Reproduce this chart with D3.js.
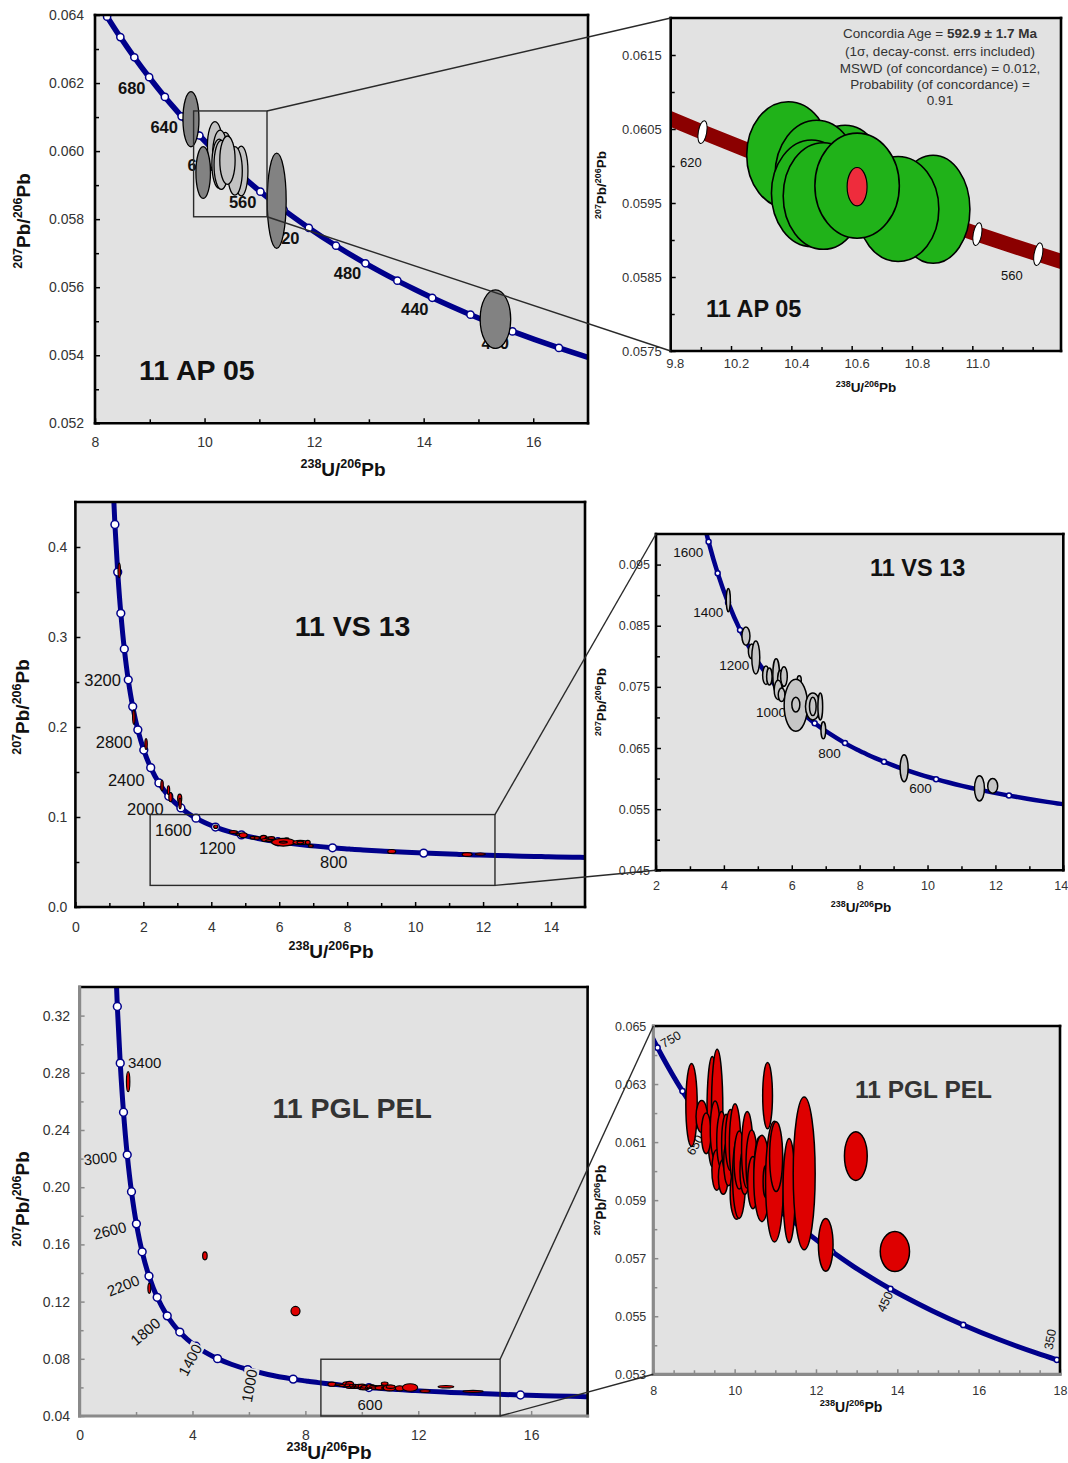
<!DOCTYPE html>
<html>
<head>
<meta charset="utf-8">
<script src="https://cdn.jsdelivr.net/npm/d3@7"></script>
<style>
  body { margin: 0; background: #fff; }
  svg { display: block; }
</style>
</head>
<body>
<div id="chart"></div>
<script>
// ---- concordia reference points (age in Ma, 238U/206Pb, 207Pb/206Pb) ----
const CONCORDIA_AGE = [4400, 4200, 4000, 3800, 3600, 3400, 3200, 3000, 2800, 2600,
  2400, 2200, 2000, 1800, 1700, 1600, 1500, 1400, 1300, 1200,
  1100, 1000, 900, 800, 760, 750, 740, 720, 700, 680,
  660, 650, 640, 630, 620, 610, 600, 590, 580, 570,
  560, 550, 540, 520, 500, 480, 460, 450, 440, 420,
  400, 380, 360, 350, 340, 300];
const CONCORDIA_X = [1.0215, 1.0888, 1.1630, 1.2453, 1.3370, 1.4398, 1.5557, 1.6874, 1.8384, 2.0129,
  2.2170, 2.4586, 2.7490, 3.1046, 3.3140, 3.5497, 3.8170, 4.1227, 4.4756, 4.8875,
  5.3746, 5.9594, 6.6743, 7.5683, 7.9920, 8.1049, 8.2209, 8.4627, 8.7182, 8.9888,
  9.2758, 9.4260, 9.5808, 9.7406, 9.9055, 10.0758, 10.2518, 10.4338, 10.6220, 10.8169,
  11.0187, 11.2279, 11.4448, 11.9037, 12.3993, 12.9362, 13.5199, 13.8312, 14.1566, 14.8540,
  15.6212, 16.4691, 17.4114, 17.9228, 18.4644, 20.9919];
const CONCORDIA_Y = [0.55714, 0.48624, 0.42501, 0.37210, 0.32635, 0.28674, 0.25242, 0.22266, 0.19682, 0.17437,
  0.15483, 0.13782, 0.12299, 0.11004, 0.10419, 0.09872, 0.09360, 0.08881, 0.08432, 0.08012,
  0.07619, 0.07250, 0.06904, 0.06580, 0.064559, 0.064254, 0.063951, 0.063350, 0.062757, 0.062172,
  0.061593, 0.061306, 0.061022, 0.060738, 0.060458, 0.060178, 0.059901, 0.059625, 0.059351, 0.059079,
  0.058808, 0.058539, 0.058272, 0.057743, 0.057219, 0.056703, 0.056193, 0.055940, 0.055689, 0.055192,
  0.054701, 0.054215, 0.053736, 0.053499, 0.053263, 0.052334];

// ---- analyses: [238U/206Pb, 207Pb/206Pb, half width, half height] ----
// 11 AP 05, analyses used for the concordia age (back to front)
const AP05_USED = [
  [10.190, 0.060149, 0.138, 0.00072],
  [10.378, 0.059811, 0.133, 0.00074],
  [10.284, 0.059878, 0.138, 0.00074],
  [10.267, 0.059631, 0.133, 0.00072],
  [10.306, 0.059595, 0.133, 0.00072],
  [10.670, 0.059415, 0.122, 0.00073],
  [10.554, 0.059419, 0.135, 0.00071],
  [10.418, 0.059734, 0.140, 0.00071]
];
const AP05_OTHER = [
  [9.752, 0.060938, 0.146, 0.00081],
  [9.975, 0.059370, 0.133, 0.00076],
  [11.317, 0.058540, 0.173, 0.00140],
  [15.310, 0.055060, 0.279, 0.00086]
];
const AP05_AGE_ELLIPSE = [[10.418, 0.059720, 0.033, 0.00026]];
const AP05_AGE_TEXT = ["Concordia Age = ", "592.9 ± 1.7 Ma", "(1σ, decay-const. errs included)",
  "MSWD (of concordance) = 0.012,", "Probability (of concordance) =", "0.91"];

// 11 VS 13
const VS13_DATA = [
  [1.29, 0.3740, 0.035, 0.0080],
  [1.72, 0.2110, 0.035, 0.0080],
  [2.08, 0.1810, 0.035, 0.0060],
  [2.55, 0.1350, 0.035, 0.0060],
  [2.74, 0.1297, 0.035, 0.0050],
  [2.80, 0.1220, 0.05, 0.0050],
  [3.07, 0.1205, 0.06, 0.0050],
  [3.08, 0.1150, 0.035, 0.0060],
  [4.13, 0.0892, 0.060, 0.0019],
  [4.65, 0.0833, 0.118, 0.0015],
  [4.82, 0.0808, 0.098, 0.0012],
  [4.94, 0.0798, 0.118, 0.0027],
  [5.24, 0.0769, 0.098, 0.0015],
  [5.34, 0.0767, 0.080, 0.0014],
  [5.54, 0.0769, 0.098, 0.0027],
  [5.66, 0.0758, 0.080, 0.0019],
  [5.77, 0.0767, 0.098, 0.0016],
  [5.60, 0.0745, 0.118, 0.0016],
  [5.70, 0.0737, 0.098, 0.0011],
  [6.22, 0.0761, 0.060, 0.0007],
  [6.12, 0.0720, 0.344, 0.00425],
  [6.12, 0.0721, 0.118, 0.0012],
  [6.62, 0.0718, 0.216, 0.0022],
  [6.62, 0.0718, 0.098, 0.0015],
  [6.84, 0.0718, 0.070, 0.0022],
  [6.93, 0.0679, 0.070, 0.0014],
  [9.31, 0.0617, 0.118, 0.0022],
  [11.53, 0.0584, 0.147, 0.00207],
  [11.92, 0.0588, 0.147, 0.0012]
];

// 11 PGL PEL
const PGL_DATA = [
  [8.94, 0.06228, 0.14, 0.00143],
  [9.45, 0.06205, 0.13, 0.00190],
  [9.57, 0.06210, 0.14, 0.00210],
  [9.19, 0.06188, 0.14, 0.00055],
  [9.30, 0.06130, 0.12, 0.00070],
  [9.52, 0.06142, 0.12, 0.00100],
  [9.56, 0.06004, 0.12, 0.00070],
  [9.68, 0.06107, 0.12, 0.00098],
  [9.72, 0.05980, 0.12, 0.00060],
  [9.79, 0.06096, 0.11, 0.00100],
  [9.85, 0.06030, 0.12, 0.00080],
  [9.90, 0.06107, 0.13, 0.00105],
  [10.01, 0.06090, 0.14, 0.00142],
  [10.05, 0.05924, 0.16, 0.00090],
  [10.11, 0.05981, 0.16, 0.00144],
  [10.115, 0.06038, 0.13, 0.00100],
  [10.25, 0.06000, 0.12, 0.00080],
  [10.31, 0.06073, 0.14, 0.00132],
  [10.42, 0.06027, 0.14, 0.00115],
  [10.45, 0.05960, 0.13, 0.00090],
  [10.62, 0.06004, 0.14, 0.00115],
  [10.81, 0.06260, 0.12, 0.00114],
  [10.67, 0.05975, 0.20, 0.00149],
  [10.77, 0.05964, 0.07, 0.00055],
  [10.98, 0.05964, 0.22, 0.00208],
  [11.02, 0.06050, 0.16, 0.00120],
  [11.34, 0.05933, 0.15, 0.00179],
  [11.71, 0.05992, 0.27, 0.00263],
  [12.24, 0.05746, 0.18, 0.00091],
  [12.98, 0.06052, 0.28, 0.00084],
  [13.94, 0.05723, 0.36, 0.00069]
];
const PGL_OUTLIERS = [
  [1.72, 0.2738, 0.06, 0.0070],
  [2.47, 0.1293, 0.05, 0.0035],
  [4.44, 0.1520, 0.08, 0.0028],
  [7.65, 0.1134, 0.16, 0.0032]
];

// ---- age labels on the concordia ----
const AP05_LABELS = ["680", "640", "600", "560", "520", "480", "440", "400"];
const AP05_ZOOM_LABELS = ["620", "560"];
const VS13_LABELS = ["3200", "2800", "2400", "2000", "1600", "1200", "800"];
const VS13_ZOOM_LABELS = ["1600", "1400", "1200", "1000", "800", "600"];
const PGL_LABELS = ["3400", "3000", "2600", "2200", "1800", "1400", "1000", "600"];
const PGL_ZOOM_LABELS = ["750", "650", "450", "350"];

// ---- ticks ----
const AP05_X_TICKS = [8, 10, 12, 14, 16];
const AP05_X_MINOR = [9, 11, 13, 15];
const AP05_Y_TICKS = [0.052, 0.054, 0.056, 0.058, 0.060, 0.062, 0.064];
const AP05_Y_MINOR = [0.053, 0.055, 0.057, 0.059, 0.061, 0.063];
const AP05Z_X_TICKS = [9.8, 10.0, 10.2, 10.4, 10.6, 10.8];
const AP05Z_X_TICK_TEXT = ["9.8", "10.2", "10.4", "10.6", "10.8", "11.0"];
const AP05Z_X_MINOR = [9.9, 10.1, 10.3, 10.5, 10.7, 10.9, 11.0];
const AP05Z_Y_TICKS = [0.0575, 0.0585, 0.0595, 0.0605, 0.0615];
const AP05Z_Y_MINOR = [0.058, 0.059, 0.060, 0.061];
const VS13_X_TICKS = [0, 2, 4, 6, 8, 10, 12, 14];
const VS13_X_MINOR = [1, 3, 5, 7, 9, 11, 13];
const VS13_Y_TICKS = [0.0, 0.1, 0.2, 0.3, 0.4];
const VS13_Y_MINOR = [0.05, 0.15, 0.25, 0.35];
const VS13Z_X_TICKS = [2, 4, 6, 8, 10, 12, 14];
const VS13Z_X_MINOR = [3, 5, 7, 9, 11, 13];
const VS13Z_Y_TICKS = [0.045, 0.055, 0.065, 0.075, 0.085, 0.095];
const VS13Z_Y_MINOR = [0.05, 0.06, 0.07, 0.08, 0.09];
const PGL_X_TICKS = [0, 4, 8, 12, 16];
const PGL_X_MINOR = [2, 6, 10, 14];
const PGL_Y_TICKS = [0.04, 0.08, 0.12, 0.16, 0.20, 0.24, 0.28, 0.32];
const PGL_Y_MINOR = [0.06, 0.10, 0.14, 0.18, 0.22, 0.26, 0.30];
const PGLZ_X_TICKS = [8, 10, 12, 14, 16, 18];
const PGLZ_X_MINOR = [8.5, 9, 9.5, 10.5, 11, 11.5, 12.5, 13, 13.5, 14.5, 15, 15.5, 16.5, 17, 17.5];
const PGLZ_Y_TICKS = [0.053, 0.055, 0.057, 0.059, 0.061, 0.063, 0.065];
const PGLZ_Y_MINOR = [0.054, 0.056, 0.058, 0.060, 0.062, 0.064];

// ---- drawing ----
const WIDTH = 1068, HEIGHT = 1463;
const BG = "#e2e2e2";
const NAVY = "#00008b";
const FONT = "'Liberation Sans', Arial, Helvetica, sans-serif";

const SVG = d3.select("#chart").append("svg")
  .attr("width", WIDTH).attr("height", HEIGHT)
  .style("font-family", FONT);
SVG.append("rect").attr("width", WIDTH).attr("height", HEIGHT).attr("fill", "#fff");

const CONCORDIA = CONCORDIA_AGE.map((age, i) => ({ age: age, x: CONCORDIA_X[i], y: CONCORDIA_Y[i] }));

function isoLabel(g, x, y, size, rotate, top, bottom) {
  const t = g.append("text")
    .attr("transform", "translate(" + x + "," + y + ") rotate(" + rotate + ")")
    .attr("text-anchor", "middle").attr("font-weight", "bold")
    .attr("font-size", size).attr("fill", "#111");
  const sup = size * 0.66, lift = size * 0.4;
  t.append("tspan").attr("font-size", sup).attr("dy", -lift).text(top[0]);
  t.append("tspan").attr("dy", lift).text(top[1] + "/");
  t.append("tspan").attr("font-size", sup).attr("dy", -lift).text(bottom[0]);
  t.append("tspan").attr("dy", lift).text(bottom[1]);
}

function drawEllipses(sel, data, X, Y, style) {
  sel.selectAll(null)
    .data(data)
    .enter()
    .append("ellipse")
    .attr("cx", (d) => X(d[0]))
    .attr("cy", (d) => Y(d[1]))
    .attr("rx", (d) => Math.abs(X(d[0] + d[2]) - X(d[0])))
    .attr("ry", (d) => Math.abs(Y(d[1] + d[3]) - Y(d[1])))
    .attr("fill", style.fill)
    .attr("stroke", style.stroke || "#000")
    .attr("stroke-width", style.width || 1.3);
}

function drawPanel(p) {
  const X = d3.scaleLinear().domain(p.xDomain).range([p.left, p.right]);
  const Y = d3.scaleLinear().domain(p.yDomain).range([p.bottom, p.top]);
  const g = SVG.append("g").attr("id", p.id);

  g.append("clipPath").attr("id", p.id + "-clip").append("rect")
    .attr("x", p.left).attr("y", p.top)
    .attr("width", p.right - p.left).attr("height", p.bottom - p.top);
  g.append("rect")
    .attr("x", p.left).attr("y", p.top)
    .attr("width", p.right - p.left).attr("height", p.bottom - p.top)
    .attr("fill", BG);

  const plot = g.append("g").attr("clip-path", "url(#" + p.id + "-clip)");

  // concordia curve
  const pts = CONCORDIA.filter((d) => d.age >= p.ageRange[0] && d.age <= p.ageRange[1]);
  plot.append("path")
    .datum(pts)
    .attr("d", d3.line().x((d) => X(d.x)).y((d) => Y(d.y)).curve(d3.curveCatmullRom.alpha(0.5)))
    .attr("fill", "none")
    .attr("stroke", p.curveColor)
    .attr("stroke-width", p.curveWidth);

  const inside = (d) => d.x >= p.xDomain[0] && d.x <= p.xDomain[1] &&
    d.y >= p.yDomain[0] && d.y <= p.yDomain[1];
  const marks = pts.filter((d) => d.age % p.markerStep === 0 && inside(d));
  if (p.markerShape === "ellipse") {
    plot.selectAll(".mk").data(marks).enter().append("ellipse")
      .attr("cx", (d) => X(d.x)).attr("cy", (d) => Y(d.y))
      .attr("rx", 4.2).attr("ry", 11.5)
      .attr("transform", (d) => "rotate(10," + X(d.x) + "," + Y(d.y) + ")")
      .attr("fill", "#fff").attr("stroke", "#000").attr("stroke-width", 1);
  } else {
    plot.selectAll(".mk").data(marks).enter().append("circle")
      .attr("cx", (d) => X(d.x)).attr("cy", (d) => Y(d.y))
      .attr("r", p.markerR)
      .attr("fill", "#fff").attr("stroke", p.curveColor).attr("stroke-width", 1.5);
  }

  // age labels
  p.labels.forEach((txt, i) => {
    const pos = p.labelPos[i];
    const lg = plot.append("g")
      .attr("transform", "translate(" + pos[0] + "," + pos[1] + ") rotate(" + (pos[2] || 0) + ")");
    const t = lg.append("text")
      .attr("text-anchor", p.labelAnchor)
      .attr("dy", p.labelAnchor === "middle" ? "0.35em" : 0)
      .attr("font-size", p.labelSize)
      .attr("font-weight", p.labelWeight)
      .attr("fill", "#111")
      .text(txt);
    if (pos[3]) {
      const bb = t.node().getBBox();
      lg.insert("rect", "text")
        .attr("x", bb.x - 1).attr("y", bb.y + 1)
        .attr("width", bb.width + 2).attr("height", bb.height - 2)
        .attr("fill", BG);
    }
  });

  // analyses
  p.ellipses.forEach((set) => drawEllipses(plot, set.data, X, Y, set.style));

  // title
  g.append("text")
    .attr("x", p.title.x).attr("y", p.title.y)
    .attr("font-size", p.title.size).attr("font-weight", "bold")
    .attr("fill", p.title.color)
    .text(p.title.text);

  // axes (inside ticks)
  const styleAxis = (ax) => {
    ax.select(".domain").remove();
    ax.attr("font-family", FONT).attr("font-size", p.tickFont);
    ax.selectAll("line").attr("stroke", p.tickColor).attr("stroke-width", 1.5);
    ax.selectAll("text").attr("fill", "#333");
    return ax;
  };
  const xPad = p.xLabelBase - 0.71 * p.tickFont;
  const xMajor = styleAxis(g.append("g").attr("transform", "translate(0," + p.bottom + ")")
    .call(d3.axisBottom(X).tickValues(p.xTicks).tickFormat(p.xFormat)
      .tickSizeInner(-5).tickSizeOuter(0).tickPadding(xPad)));
  if (p.xLabelShift) {
    xMajor.selectAll("text").attr("dx", (d, i) => p.xLabelShift[i] || 0);
  }
  styleAxis(g.append("g").attr("transform", "translate(0," + p.bottom + ")")
    .call(d3.axisBottom(X).tickValues(p.xMinor).tickFormat(() => "")
      .tickSizeInner(-4).tickSizeOuter(0)));
  styleAxis(g.append("g").attr("transform", "translate(" + p.left + ",0)")
    .call(d3.axisLeft(Y).tickValues(p.yTicks).tickFormat(p.yFormat)
      .tickSizeInner(-5).tickSizeOuter(0).tickPadding(p.yLabelPad)));
  styleAxis(g.append("g").attr("transform", "translate(" + p.left + ",0)")
    .call(d3.axisLeft(Y).tickValues(p.yMinor).tickFormat(() => "")
      .tickSizeInner(-4).tickSizeOuter(0)));

  // frame
  const fw = p.frameWidth;
  g.append("line").attr("x1", p.left).attr("x2", p.right).attr("y1", p.top).attr("y2", p.top)
    .attr("stroke", "#000").attr("stroke-width", fw).attr("stroke-linecap", "square");
  g.append("line").attr("x1", p.right).attr("x2", p.right).attr("y1", p.top).attr("y2", p.bottom)
    .attr("stroke", "#000").attr("stroke-width", fw).attr("stroke-linecap", "square");
  g.append("line").attr("x1", p.left).attr("x2", p.right).attr("y1", p.bottom).attr("y2", p.bottom)
    .attr("stroke", p.axisColor).attr("stroke-width", p.axisWidth).attr("stroke-linecap", "square");
  g.append("line").attr("x1", p.left).attr("x2", p.left).attr("y1", p.top).attr("y2", p.bottom)
    .attr("stroke", p.axisColor).attr("stroke-width", p.axisWidth).attr("stroke-linecap", "square");

  // axis titles
  isoLabel(g, p.xTitle[0], p.xTitle[1], p.axisTitleSize, 0, ["238", "U"], ["206", "Pb"]);
  isoLabel(g, p.yTitle[0], p.yTitle[1], p.axisTitleSize, -90, ["207", "Pb"], ["206", "Pb"]);

  return { X: X, Y: Y, g: g };
}

const fmt = (s) => d3.format(s);

// ---- panel 1: 11 AP 05 overview ----
const P1 = drawPanel({
  id: "ap05", left: 95, right: 588, top: 15, bottom: 423.3,
  xDomain: [8, 17], yDomain: [0.052, 0.064],
  xTicks: AP05_X_TICKS, xMinor: AP05_X_MINOR, xFormat: fmt("d"),
  yTicks: AP05_Y_TICKS, yMinor: AP05_Y_MINOR, yFormat: fmt(".3f"),
  tickFont: 14, xLabelBase: 24, yLabelPad: 11, tickColor: "#000",
  curveColor: NAVY, curveWidth: 5.5, ageRange: [340, 800], markerStep: 20, markerR: 3.6,
  labels: AP05_LABELS,
  labelPos: [[118, 94], [150.4, 133], [187.5, 171], [228.9, 208], [272, 244], [333.7, 279], [401, 315], [481.4, 349]],
  labelAnchor: "start", labelSize: 16.5, labelWeight: "bold",
  ellipses: [
    { data: AP05_USED, style: { fill: "#c3c3c3", width: 1.3 } },
    { data: AP05_OTHER, style: { fill: "#828282", width: 1.3 } }
  ],
  title: { text: "11 AP 05", x: 139, y: 380, size: 28.5, color: "#111" },
  frameWidth: 2.6, axisColor: "#000", axisWidth: 2.6,
  axisTitleSize: 19, xTitle: [343, 476], yTitle: [30, 221]
});

// ---- panel 2: 11 AP 05 zoom ----
const P2 = drawPanel({
  id: "ap05z", left: 670.7, right: 1061, top: 18, bottom: 351,
  xDomain: [9.8, 11.094], yDomain: [0.0575, 0.0620],
  xTicks: AP05Z_X_TICKS, xMinor: AP05Z_X_MINOR, xFormat: (d, i) => AP05Z_X_TICK_TEXT[i],
  xLabelShift: [4, 5, 5, 5, 5, 5],
  yTicks: AP05Z_Y_TICKS, yMinor: AP05Z_Y_MINOR, yFormat: fmt(".4f"),
  tickFont: 13, xLabelBase: 17, yLabelPad: 9, tickColor: "#000",
  curveColor: "#8b0000", curveWidth: 15, ageRange: [540, 640], markerStep: 10, markerShape: "ellipse",
  labels: AP05_ZOOM_LABELS,
  labelPos: [[680, 167], [1001, 280]],
  labelAnchor: "start", labelSize: 13, labelWeight: "normal",
  ellipses: [
    { data: AP05_USED, style: { fill: "#20b219", width: 1.6 } },
    { data: AP05_AGE_ELLIPSE, style: { fill: "#ee2c3c", width: 1.2 } }
  ],
  title: { text: "11 AP 05", x: 706, y: 317, size: 23.5, color: "#111" },
  frameWidth: 2.6, axisColor: "#000", axisWidth: 2.6,
  axisTitleSize: 13.5, xTitle: [866, 392], yTitle: [606, 185]
});

// concordia age annotation
const ann = P2.g.append("g").attr("font-size", 13.5).attr("fill", "#333").attr("text-anchor", "middle");
const a1 = ann.append("text").attr("x", 940).attr("y", 38);
a1.append("tspan").text(AP05_AGE_TEXT[0]);
a1.append("tspan").attr("font-weight", "bold").text(AP05_AGE_TEXT[1]);
[56, 72.5, 88.5, 105].forEach((y, i) => {
  ann.append("text").attr("x", 940).attr("y", y).text(AP05_AGE_TEXT[i + 2]);
});

// ---- panel 3: 11 VS 13 overview ----
const P3 = drawPanel({
  id: "vs13", left: 75.4, right: 585, top: 502, bottom: 907,
  xDomain: [0, 15], yDomain: [0, 0.45],
  xTicks: VS13_X_TICKS, xMinor: VS13_X_MINOR, xFormat: fmt("d"),
  yTicks: VS13_Y_TICKS, yMinor: VS13_Y_MINOR, yFormat: fmt(".1f"),
  tickFont: 14, xLabelBase: 25, yLabelPad: 8, tickColor: "#000",
  curveColor: NAVY, curveWidth: 5, ageRange: [300, 4400], markerStep: 200, markerR: 3.9,
  labels: VS13_LABELS,
  labelPos: [[84.2, 686], [95.7, 747.5], [107.9, 786], [127, 815], [155, 836], [199, 853.5], [320, 868]],
  labelAnchor: "start", labelSize: 16.5, labelWeight: "normal",
  ellipses: [{ data: VS13_DATA, style: { fill: "#e00000", width: 1.2 } }],
  title: { text: "11 VS 13", x: 294.7, y: 636, size: 28.5, color: "#111" },
  frameWidth: 2.6, axisColor: "#000", axisWidth: 2.6,
  axisTitleSize: 19, xTitle: [331, 958], yTitle: [29, 707]
});

// ---- panel 4: 11 VS 13 zoom ----
const P4 = drawPanel({
  id: "vs13z", left: 656, right: 1063.3, top: 534, bottom: 870.3,
  xDomain: [2, 14], yDomain: [0.045, 0.1],
  xTicks: VS13Z_X_TICKS, xMinor: VS13Z_X_MINOR, xFormat: fmt("d"),
  xLabelShift: [0, 0, 0, 0, 0, 0, -2.5],
  yTicks: VS13Z_Y_TICKS, yMinor: VS13Z_Y_MINOR, yFormat: fmt(".3f"),
  tickFont: 12.5, xLabelBase: 20, yLabelPad: 6, tickColor: "#000",
  curveColor: NAVY, curveWidth: 4.5, ageRange: [340, 1800], markerStep: 100, markerR: 2.5,
  labels: VS13_ZOOM_LABELS,
  labelPos: [[673.3, 556.5], [693.3, 617], [719.3, 670], [756, 716.5], [818.3, 757.5], [909.3, 792.5]],
  labelAnchor: "start", labelSize: 13.5, labelWeight: "normal",
  ellipses: [{ data: VS13_DATA, style: { fill: "#c6c6c6", width: 1.5 } }],
  title: { text: "11 VS 13", x: 870, y: 576, size: 23.5, color: "#111" },
  frameWidth: 2.6, axisColor: "#000", axisWidth: 2.6,
  axisTitleSize: 13.5, xTitle: [861, 912], yTitle: [606, 702]
});

// ---- panel 5: 11 PGL PEL overview ----
const P5 = drawPanel({
  id: "pgl", left: 79.6, right: 587.6, top: 987, bottom: 1416,
  xDomain: [0, 18], yDomain: [0.04, 0.34],
  xTicks: PGL_X_TICKS, xMinor: PGL_X_MINOR, xFormat: fmt("d"),
  yTicks: PGL_Y_TICKS, yMinor: PGL_Y_MINOR, yFormat: fmt(".2f"),
  tickFont: 14, xLabelBase: 24, yLabelPad: 9.6, tickColor: "#8a8a8a",
  curveColor: NAVY, curveWidth: 5, ageRange: [300, 4400], markerStep: 200, markerR: 3.9,
  labels: PGL_LABELS,
  labelPos: [[144.7, 1062.3, 0], [100.3, 1158.3, -6], [109.8, 1230.7, -14], [123.2, 1285.7, -22],
    [145.4, 1331.7, -40], [190.2, 1360, -62, true], [249.5, 1385.7, -80, true], [370, 1405, 0]],
  labelAnchor: "middle", labelSize: 15, labelWeight: "normal",
  ellipses: [
    { data: PGL_OUTLIERS, style: { fill: "#e00000", width: 1.2 } },
    { data: PGL_DATA, style: { fill: "#e00000", width: 1.1 } }
  ],
  title: { text: "11 PGL PEL", x: 272.5, y: 1118, size: 28.5, color: "#333" },
  frameWidth: 2.6, axisColor: "#8a8a8a", axisWidth: 3.2,
  axisTitleSize: 19, xTitle: [329, 1459], yTitle: [29, 1199]
});

// ---- panel 6: 11 PGL PEL zoom ----
const P6 = drawPanel({
  id: "pglz", left: 653.3, right: 1060, top: 1026, bottom: 1374.3,
  xDomain: [8, 18], yDomain: [0.053, 0.065],
  xTicks: PGLZ_X_TICKS, xMinor: PGLZ_X_MINOR, xFormat: fmt("d"),
  yTicks: PGLZ_Y_TICKS, yMinor: PGLZ_Y_MINOR, yFormat: fmt(".3f"),
  tickFont: 12.5, xLabelBase: 21, yLabelPad: 7, tickColor: "#8a8a8a",
  curveColor: NAVY, curveWidth: 5, ageRange: [300, 800], markerStep: 50, markerR: 2.6,
  labels: PGL_ZOOM_LABELS,
  labelPos: [[670.7, 1039.3, -30], [695, 1145, -60], [885, 1301.7, -65], [1050, 1339.3, -80]],
  labelAnchor: "middle", labelSize: 12.5, labelWeight: "normal",
  ellipses: [{ data: PGL_DATA, style: { fill: "#de0000", width: 1.5 } }],
  title: { text: "11 PGL PEL", x: 855, y: 1098, size: 24.5, color: "#333" },
  frameWidth: 2.6, axisColor: "#8a8a8a", axisWidth: 3.2,
  axisTitleSize: 14, xTitle: [851, 1412], yTitle: [606, 1200]
});

// ---- zoom boxes and connectors ----
function zoomBox(src, box, dst) {
  const x0 = src.X(box[0]), x1 = src.X(box[1]);
  const y0 = src.Y(box[3]), y1 = src.Y(box[2]);
  const over = SVG.append("g").attr("fill", "none").attr("stroke", "#2a2a2a").attr("stroke-width", 1.4);
  over.append("rect").attr("x", x0).attr("y", y0).attr("width", x1 - x0).attr("height", y1 - y0);
  over.append("line").attr("x1", x1).attr("y1", y0)
    .attr("x2", dst.X.range()[0]).attr("y2", dst.Y.range()[1]);
  over.append("line").attr("x1", x1).attr("y1", y1)
    .attr("x2", dst.X.range()[0]).attr("y2", dst.Y.range()[0]);
}
zoomBox(P1, [9.8, 11.14, 0.05807, 0.06118], P2);
zoomBox(P3, [2.2, 12.35, 0.024, 0.1027], P4);
zoomBox(P5, [8.55, 14.9, 0.04, 0.0797], P6);
</script>
</body>
</html>
